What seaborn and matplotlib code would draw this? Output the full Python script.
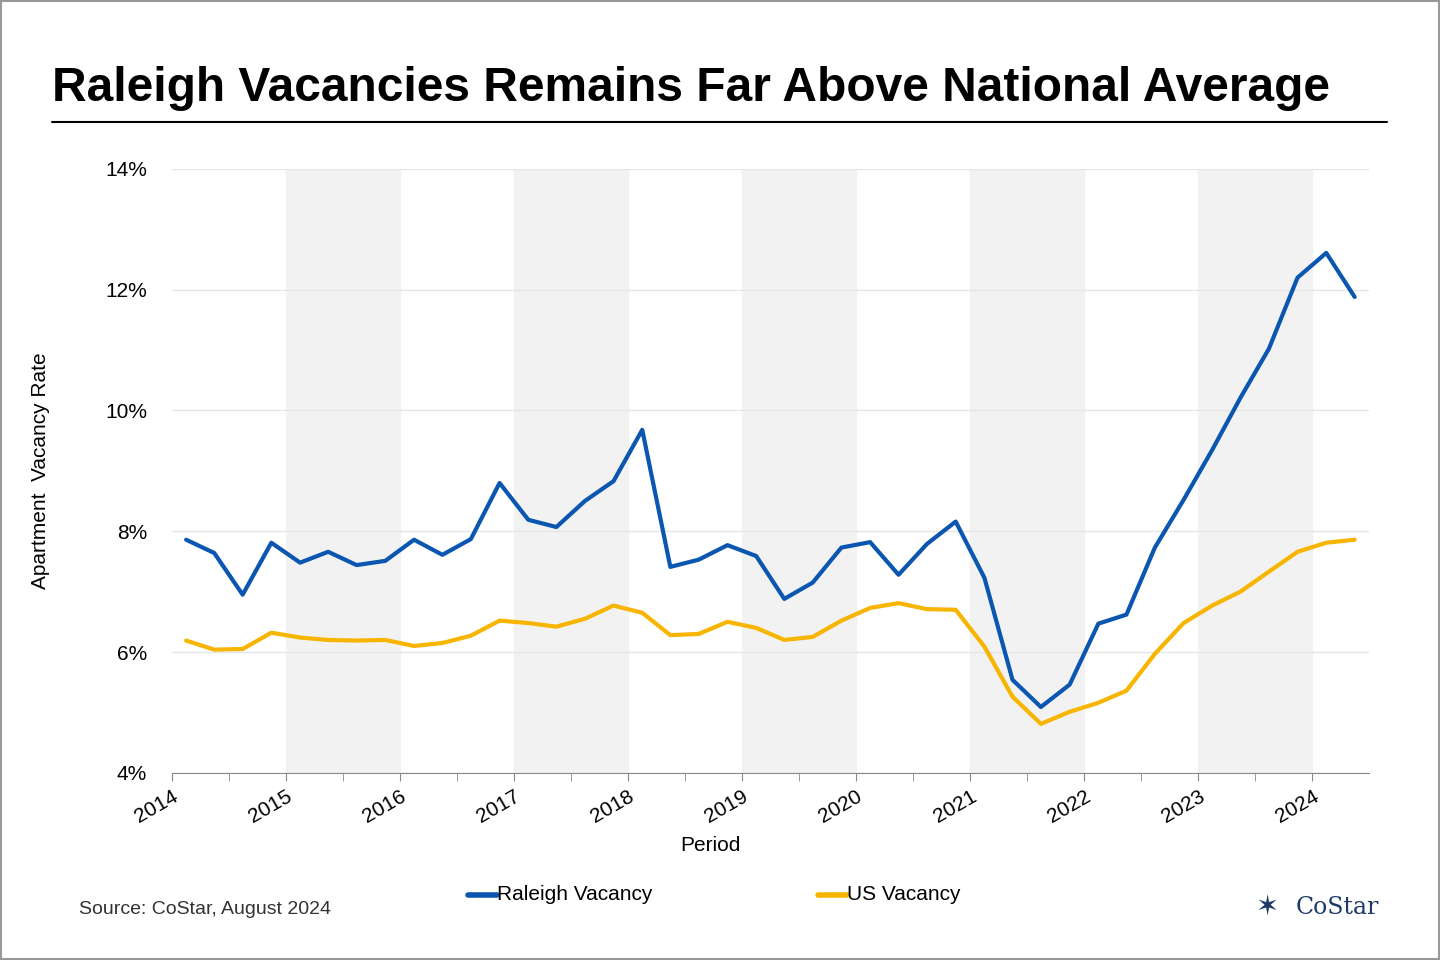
import matplotlib
matplotlib.use("Agg")

import numpy as np
import pandas as pd
import matplotlib.pyplot as plt
import matplotlib.dates as mdates
from matplotlib.ticker import FuncFormatter
import seaborn as sns

quarters = pd.date_range("2014-01-01", periods=42, freq="QS") + pd.Timedelta(days=45)

raleigh = [7.86, 7.64, 6.95, 7.81, 7.48, 7.66, 7.44, 7.51, 7.86, 7.61, 7.87, 8.80,
           8.19, 8.07, 8.50, 8.83, 9.68, 7.41, 7.53, 7.77, 7.59, 6.88, 7.15, 7.73,
           7.82, 7.28, 7.79, 8.16, 7.23, 5.54, 5.09, 5.46, 6.47, 6.62, 7.73, 8.52,
           9.35, 10.21, 11.02, 12.20, 12.61, 11.88]
us = [6.19, 6.04, 6.05, 6.32, 6.24, 6.20, 6.19, 6.20, 6.10, 6.15, 6.27, 6.52,
      6.48, 6.42, 6.55, 6.77, 6.65, 6.28, 6.30, 6.50, 6.40, 6.20, 6.25, 6.52,
      6.73, 6.81, 6.71, 6.70, 6.09, 5.26, 4.81, 5.01, 5.16, 5.36, 5.97, 6.48,
      6.77, 7.00, 7.33, 7.66, 7.81, 7.86]

df = pd.DataFrame({"Period": list(quarters) * 2,
                   "Vacancy": raleigh + us,
                   "Series": ["Raleigh Vacancy"] * 42 + ["US Vacancy"] * 42})

sns.set_style("white")
plt.rcParams["font.family"] = ["Arial", "Liberation Sans", "DejaVu Sans"]
plt.rcParams["text.color"] = "black"
plt.rcParams["xtick.color"] = "black"
plt.rcParams["ytick.color"] = "black"
plt.rcParams["axes.labelcolor"] = "black"

fig = plt.figure(figsize=(14.4, 9.6), dpi=100)
ax = fig.add_axes([0.1195, 0.195, 0.831, 0.629])

for y0 in [2015, 2017, 2019, 2021, 2023]:
    ax.axvspan(pd.Timestamp(f"{y0}-01-01"), pd.Timestamp(f"{y0+1}-01-01"),
               color="#f2f2f2", zorder=0)

sns.lineplot(data=df, x="Period", y="Vacancy", hue="Series",
             palette={"Raleigh Vacancy": "#0a56b0", "US Vacancy": "#f7b500"},
             linewidth=3, ax=ax, legend=False, zorder=3)

ax.set_xlim(pd.Timestamp("2014-01-01"), pd.Timestamp("2024-06-30"))
ax.set_ylim(4, 14)
ax.set_yticks([4, 6, 8, 10, 12, 14])
ax.yaxis.set_major_formatter(FuncFormatter(lambda v, p: f"{v:.0f}%"))
ax.grid(axis="y", color="#e6e6e6", linewidth=1)
ax.xaxis.set_major_locator(mdates.YearLocator())
ax.xaxis.set_major_formatter(mdates.DateFormatter("%Y"))
ax.xaxis.set_minor_locator(mdates.MonthLocator(bymonth=[7]))
for s in ["top", "right", "left"]:
    ax.spines[s].set_visible(False)
ax.spines["bottom"].set_color("#888888")
ax.tick_params(axis="x", which="both", direction="out", length=6, color="#888888",
               bottom=True, labelsize=15, pad=4)
ax.tick_params(axis="y", length=0, labelsize=15, pad=18)
for lab in ax.get_xticklabels():
    lab.set_rotation(30)
    lab.set_ha("right")
    lab.set_rotation_mode("anchor")
ax.set_xlabel("Period", fontsize=15, labelpad=12)
ax.xaxis.set_label_coords(0.45, -0.105)
ax.set_ylabel("Apartment  Vacancy Rate", fontsize=15, labelpad=40)

fig.text(0.036, 0.895, "Raleigh Vacancies Remains Far Above National Average",
         fontsize=34.5, fontweight="bold")
fig.add_artist(plt.Line2D([0.036, 0.963], [0.873, 0.873], color="black", lw=1.5))

fig.add_artist(plt.Line2D([0.325, 0.345], [0.068, 0.068], color="#0a56b0", lw=4))
fig.text(0.345, 0.068, "Raleigh Vacancy", fontsize=15, va="center")
fig.add_artist(plt.Line2D([0.568, 0.588], [0.068, 0.068], color="#f7b500", lw=4))
fig.text(0.588, 0.068, "US Vacancy", fontsize=15, va="center")

fig.text(0.055, 0.053, "Source: CoStar, August 2024", fontsize=14, color="#333333", va="center")
fig.text(0.9, 0.055, "CoStar", fontsize=17, color="#1f3a68", family="serif", va="center")
fig.text(0.88, 0.055, "\u2736", fontsize=20, color="#1f3a68", family="DejaVu Sans",
         ha="center", va="center")

fig.add_artist(plt.Rectangle((0.001, 0.001), 0.998, 0.998, fill=False,
                             edgecolor="#999999", lw=1.5, transform=fig.transFigure))

fig.savefig("out.png", dpi=100)
